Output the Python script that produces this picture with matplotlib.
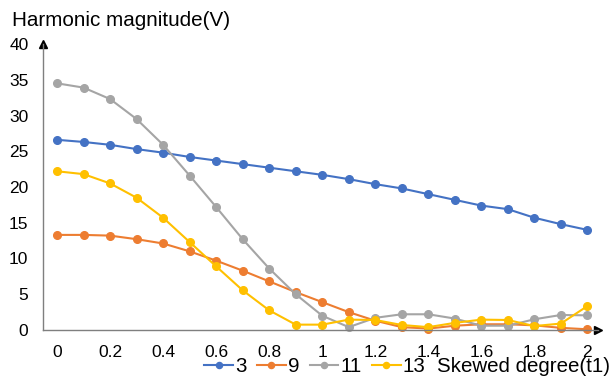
import matplotlib
matplotlib.use('Agg')
import matplotlib.pyplot as plt

#  ----------------- data
#
skew = [0, 0.1, 0.2, 0.3, 0.4, 0.5, 0.6, 0.7, 0.8, 0.9, 1.0,
        1.1, 1.2, 1.3, 1.4, 1.5, 1.6, 1.7, 1.8, 1.9, 2.0]

h3 = [26.6, 26.3, 25.9, 25.3, 24.8, 24.2, 23.7, 23.2, 22.7, 22.2, 21.7,
      21.1, 20.4, 19.8, 19.0, 18.2, 17.4, 16.9, 15.7, 14.8, 14.0]
h9 = [13.3, 13.3, 13.2, 12.7, 12.1, 11.0, 9.7, 8.3, 6.8, 5.3, 3.9,
      2.5, 1.3, 0.4, 0.2, 0.6, 0.8, 0.8, 0.65, 0.3, 0.1]
h11 = [34.5, 33.9, 32.3, 29.5, 25.9, 21.6, 17.2, 12.7, 8.6, 5.0, 2.0,
       0.4, 1.7, 2.2, 2.2, 1.6, 0.6, 0.6, 1.5, 2.1, 2.05]
h13 = [22.2, 21.8, 20.5, 18.5, 15.7, 12.3, 8.9, 5.55, 2.75, 0.75, 0.75,
       1.45, 1.4, 0.7, 0.4, 1.0, 1.45, 1.4, 0.55, 0.9, 3.35]

names = ['3', '9', '11', '13']
colours = ['#4472C4', '#ED7D31', '#A5A5A5', '#FFC000']

xticks = [0, 0.2, 0.4, 0.6, 0.8, 1, 1.2, 1.4, 1.6, 1.8, 2]
xticklabels = ['0', '0.2', '0.4', '0.6', '0.8', '1', '1.2', '1.4', '1.6', '1.8', '2']
yticks = [0, 5, 10, 15, 20, 25, 30, 35, 40]

#  ----------------- figure
#
plt.rcParams['font.family'] = ['Liberation Sans', 'DejaVu Sans']

W, H = 611, 378
fig = plt.figure(figsize=(W / 100.0, H / 100.0), dpi=100)
ax = fig.add_axes([43.0 / W, (H - 330.0) / H, (598.0 - 43) / W, (330.0 - 44) / H])

for vals, c, n in zip([h3, h9, h11, h13], colours, names):
    ax.plot(skew, vals, color=c, lw=1.5, marker='o', ms=5.5, label=n, clip_on=False)

ax.set_xlim(-0.053, 2.04)
ax.set_ylim(0, 40)
ax.set_xticks(xticks)
ax.set_xticklabels(xticklabels)
ax.set_yticks(yticks)
ax.tick_params(length=0, labelsize=12.5, colors='#000000')
ax.tick_params(axis='x', pad=11)
ax.tick_params(axis='y', pad=10.5)

for s in ['top', 'right']:
    ax.spines[s].set_visible(False)
for s in ['left', 'bottom']:
    ax.spines[s].set_color('#7f7f7f')
    ax.spines[s].set_linewidth(1.0)

# arrow heads on the axes
ax.plot(1, 0, '>k', ms=6, transform=ax.get_yaxis_transform(), clip_on=False)
ax.plot(-0.053, 1, '^k', ms=6, transform=ax.get_xaxis_transform(), clip_on=False)

fig.text(12.0 / W, 1 - 20.0 / H, 'Harmonic magnitude(V)', fontsize=14.9,
         ha='left', va='center')
fig.text(610.0 / W, 1 - 367.0 / H, 'Skewed degree(t1)', fontsize=14.8,
         ha='right', va='center')

fig.legend(loc='center', bbox_to_anchor=(315.0 / W, 1 - 367.0 / H), ncol=4,
           frameon=False, fontsize=14.8, handlelength=1.4, handletextpad=0.1,
           columnspacing=0.5, borderpad=0, markerscale=0.8)

fig.savefig('out.png', dpi=100)
